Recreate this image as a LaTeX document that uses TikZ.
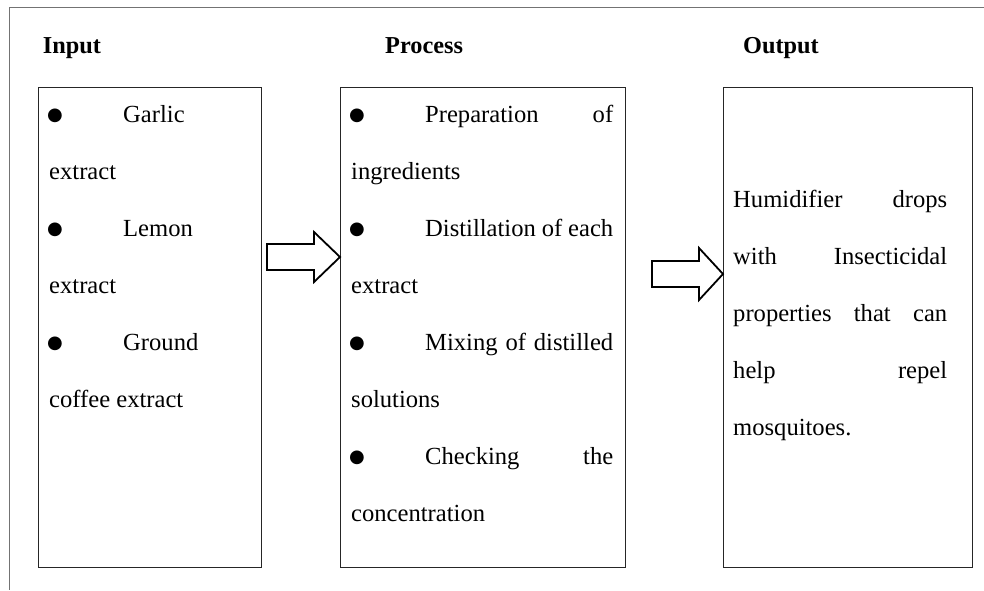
\documentclass[tikz,border=0pt]{standalone}
\usepackage{fontspec}
\setmainfont{Liberation Serif}
\newfontfamily\bulletfont{DejaVu Sans}
\usetikzlibrary{calc}
\tikzset{
  boxnode/.style={draw=black!85, line width=1.3pt, inner sep=0, anchor=north west, minimum height=480pt},
  txt/.style={anchor=base west, inner sep=0, font=\fontsize{24.6}{28}\selectfont},
  head/.style={anchor=base west, inner sep=0, font=\fontsize{24.3}{28}\selectfont\bfseries},
  bul/.style={anchor=center, inner sep=0, font=\bulletfont\fontsize{18}{20}\selectfont},
  blockarr/.style={draw=black, line width=1.8pt, fill=white, line join=miter},
  frame/.style={draw=black!55, line width=1pt}
}
\begin{document}
\begin{tikzpicture}[x=1pt,y=-1pt]
\useasboundingbox (0,0) rectangle (984,590);
\draw[frame] (984,7.5) -- (9,7.5) -- (9,590);

% headers
\node[head] (hin) at (42.7,53.3) {Input};
\node[head] (hpr) at (385,53.3) {Process};
\node[head] (hout) at (743,53.3) {Output};

% boxes
\node[boxnode, minimum width=223pt] (ibox) at (38,86.7) {};
\node[boxnode, minimum width=285pt] (pbox) at (340,86.7) {};
\node[boxnode, minimum width=249pt] (obox) at (723,86.7) {};

% input text
\node[bul] (ib1) at (55,116) {●};
\node[txt] (i1) at (123,122.5) {Garlic};
\node[txt] (i2) at (49,179.5) {extract};
\node[bul] (ib2) at (55,230) {●};
\node[txt] (i3) at (123,236.5) {Lemon};
\node[txt] (i4) at (49,293.5) {extract};
\node[bul] (ib3) at (55,344) {●};
\node[txt] (i5) at (123,350.5) {Ground};
\node[txt] (i6) at (49,407.5) {coffee extract};

% process text
\node[bul] (pb1) at (357,116) {●};
\node[txt] (p1) at (425,122.5) {\makebox[188pt][s]{Preparation of}};
\node[txt] (p2) at (351,179.5) {ingredients};
\node[bul] (pb2) at (357,230) {●};
\node[txt] (p3) at (425,236.5) {\makebox[188pt][s]{Distillation of each}};
\node[txt] (p4) at (351,293.5) {extract};
\node[bul] (pb3) at (357,344) {●};
\node[txt] (p5) at (425,350.5) {\makebox[188pt][s]{Mixing of distilled}};
\node[txt] (p6) at (351,407.5) {solutions};
\node[bul] (pb4) at (357,458) {●};
\node[txt] (p7) at (425,464.5) {\makebox[188pt][s]{Checking the}};
\node[txt] (p8) at (351,521.5) {concentration};

% output text
\node[txt] (o1) at (733,207) {\makebox[214pt][s]{Humidifier drops}};
\node[txt] (o2) at (733,264) {\makebox[214pt][s]{with Insecticidal}};
\node[txt] (o3) at (733,321) {\makebox[214pt][s]{properties that can}};
\node[txt] (o4) at (733,378) {\makebox[214pt][s]{help repel}};
\node[txt] (o5) at (733,435) {mosquitoes.};

% block arrows
\coordinate (a1tail) at (267,257);
\draw[blockarr] (a1tail) ++(0,-13) -- ++(47,0) -- ++(0,-12) -- (pbox.west |- a1tail) -- ++(-26,25) -- ++(0,-12) -- ++(-47,0) -- cycle;
\coordinate (a2tail) at (652,274);
\draw[blockarr] (a2tail) ++(0,-13) -- ++(47,0) -- ++(0,-13) -- (obox.west |- a2tail) -- ++(-24,26) -- ++(0,-13) -- ++(-47,0) -- cycle;
\end{tikzpicture}
\end{document}
